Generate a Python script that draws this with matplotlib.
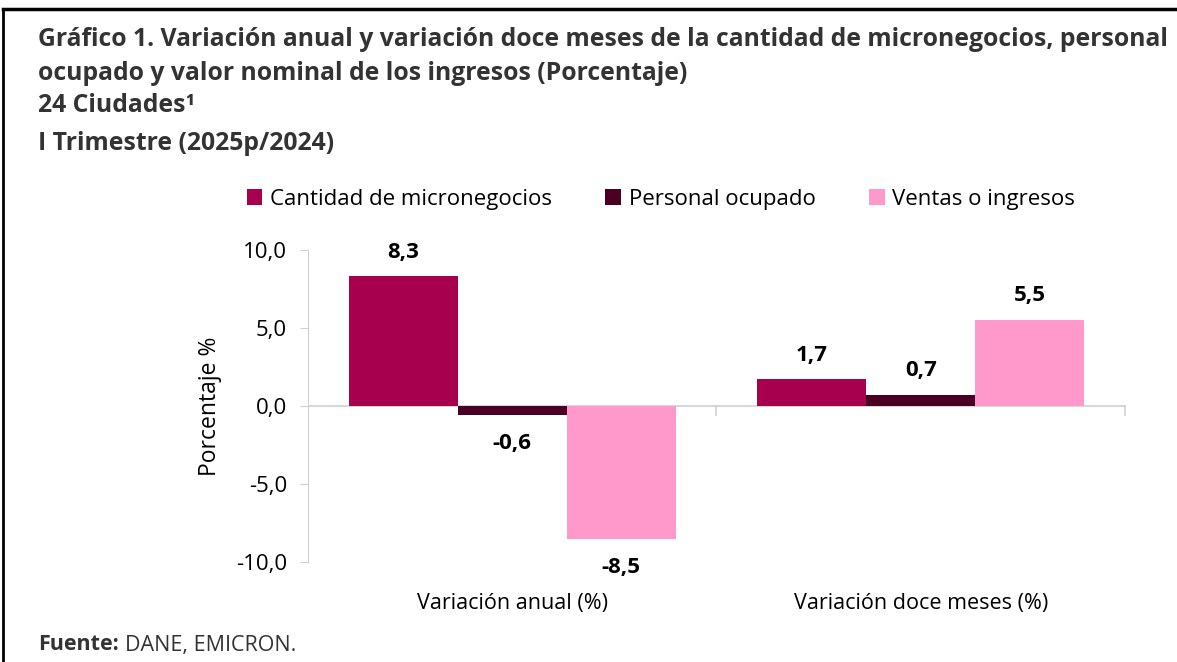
import numpy as np
import matplotlib.pyplot as plt
from matplotlib.lines import Line2D

# --- Datos ---
categorias = ['Variación anual (%)', 'Variación doce meses (%)']
series = ['Cantidad de micronegocios', 'Personal ocupado', 'Ventas o ingresos']
micronegocios = [8.3, 1.7]
personal = [-0.6, 0.7]
ventas = [-8.5, 5.5]
colores = ['#A6004E', '#4A0022', '#FF99CC']
ticks_y = [-10, -5, 0, 5, 10]

plt.rcParams['font.family'] = ['Open Sans', 'DejaVu Sans']

fig = plt.figure(figsize=(11.77, 6.62), dpi=100)
ax = fig.add_axes([0.2617, 0.1511, 0.6941, 0.4713])

x = np.arange(len(categorias))
ancho = 0.8 / 3
valores = [micronegocios, personal, ventas]
for i, (nombre, vals) in enumerate(zip(series, valores)):
    barras = ax.bar(x + (i - 1) * ancho, vals, ancho, color=colores[i], label=nombre)
    for b, v in zip(barras, vals):
        txt = f'{v:.1f}'.replace('.', ',')
        dy = 17.5 if v >= 0 else -20.5
        ax.annotate(txt, (b.get_x() + b.get_width() / 2, v), xytext=(0, dy),
                    textcoords='offset points', ha='center', va='center',
                    fontsize=16, fontweight='bold')

ax.set_xlim(-0.5, 1.5)
ax.set_ylim(-10, 10)
ax.set_yticks(ticks_y)
ax.set_yticklabels([f'{t:.1f}'.replace('.', ',') for t in ticks_y], fontsize=16)
ax.set_xticks(x)
ax.set_xticklabels(categorias, fontsize=15.5)
ax.tick_params(axis='x', length=0, pad=22)
ax.tick_params(axis='y', length=6, color='#D0D0D0', pad=9)
for sp in ['top', 'right', 'bottom']:
    ax.spines[sp].set_visible(False)
ax.spines['left'].set_color('#D0D0D0')
ax.axhline(0, color='#D0D0D0', lw=1.2, zorder=0)
# marcas del eje x en los limites de categoria
for xb in [0.5, 1.5]:
    ax.plot([xb, xb], [0, -0.55], color='#D0D0D0', lw=1.2, clip_on=False)
ax.set_ylabel('Porcentaje %', fontsize=16.5, labelpad=10)

ax.legend(loc='center', bbox_to_anchor=(0.432, 1.163), ncol=3, frameon=False,
          fontsize=16, handlelength=0.7, handleheight=0.7, handletextpad=0.35,
          columnspacing=2.4)

# --- Titulo ---
titulo = ['Gráfico 1. Variación anual y variación doce meses de la cantidad de micronegocios, personal',
          'ocupado y valor nominal de los ingresos (Porcentaje)',
          '24 Ciudades¹',
          'I Trimestre (2025p/2024)']
tf = dict(fontsize=17.8, fontweight='bold', color='#333333', va='center')
for linea, yp in zip(titulo, [40, 73, 106, 143]):
    fig.text(38 / 1177, 1 - yp / 662, linea, **tf)

fig.text(38 / 1177, 1 - 645 / 662, 'Fuente:', fontsize=15.5, fontweight='bold', color='#333333', va='center')
fig.text(125 / 1177, 1 - 645 / 662, 'DANE, EMICRON.', fontsize=15.5, color='#333333', va='center')

# marco
fig.add_artist(Line2D([3 / 1177, 1], [1 - 9 / 662, 1 - 9 / 662], color='black', lw=2.5, transform=fig.transFigure))
fig.add_artist(Line2D([3 / 1177, 3 / 1177], [0, 1 - 9 / 662], color='black', lw=2, transform=fig.transFigure))

fig.savefig('out.png', dpi=100)
